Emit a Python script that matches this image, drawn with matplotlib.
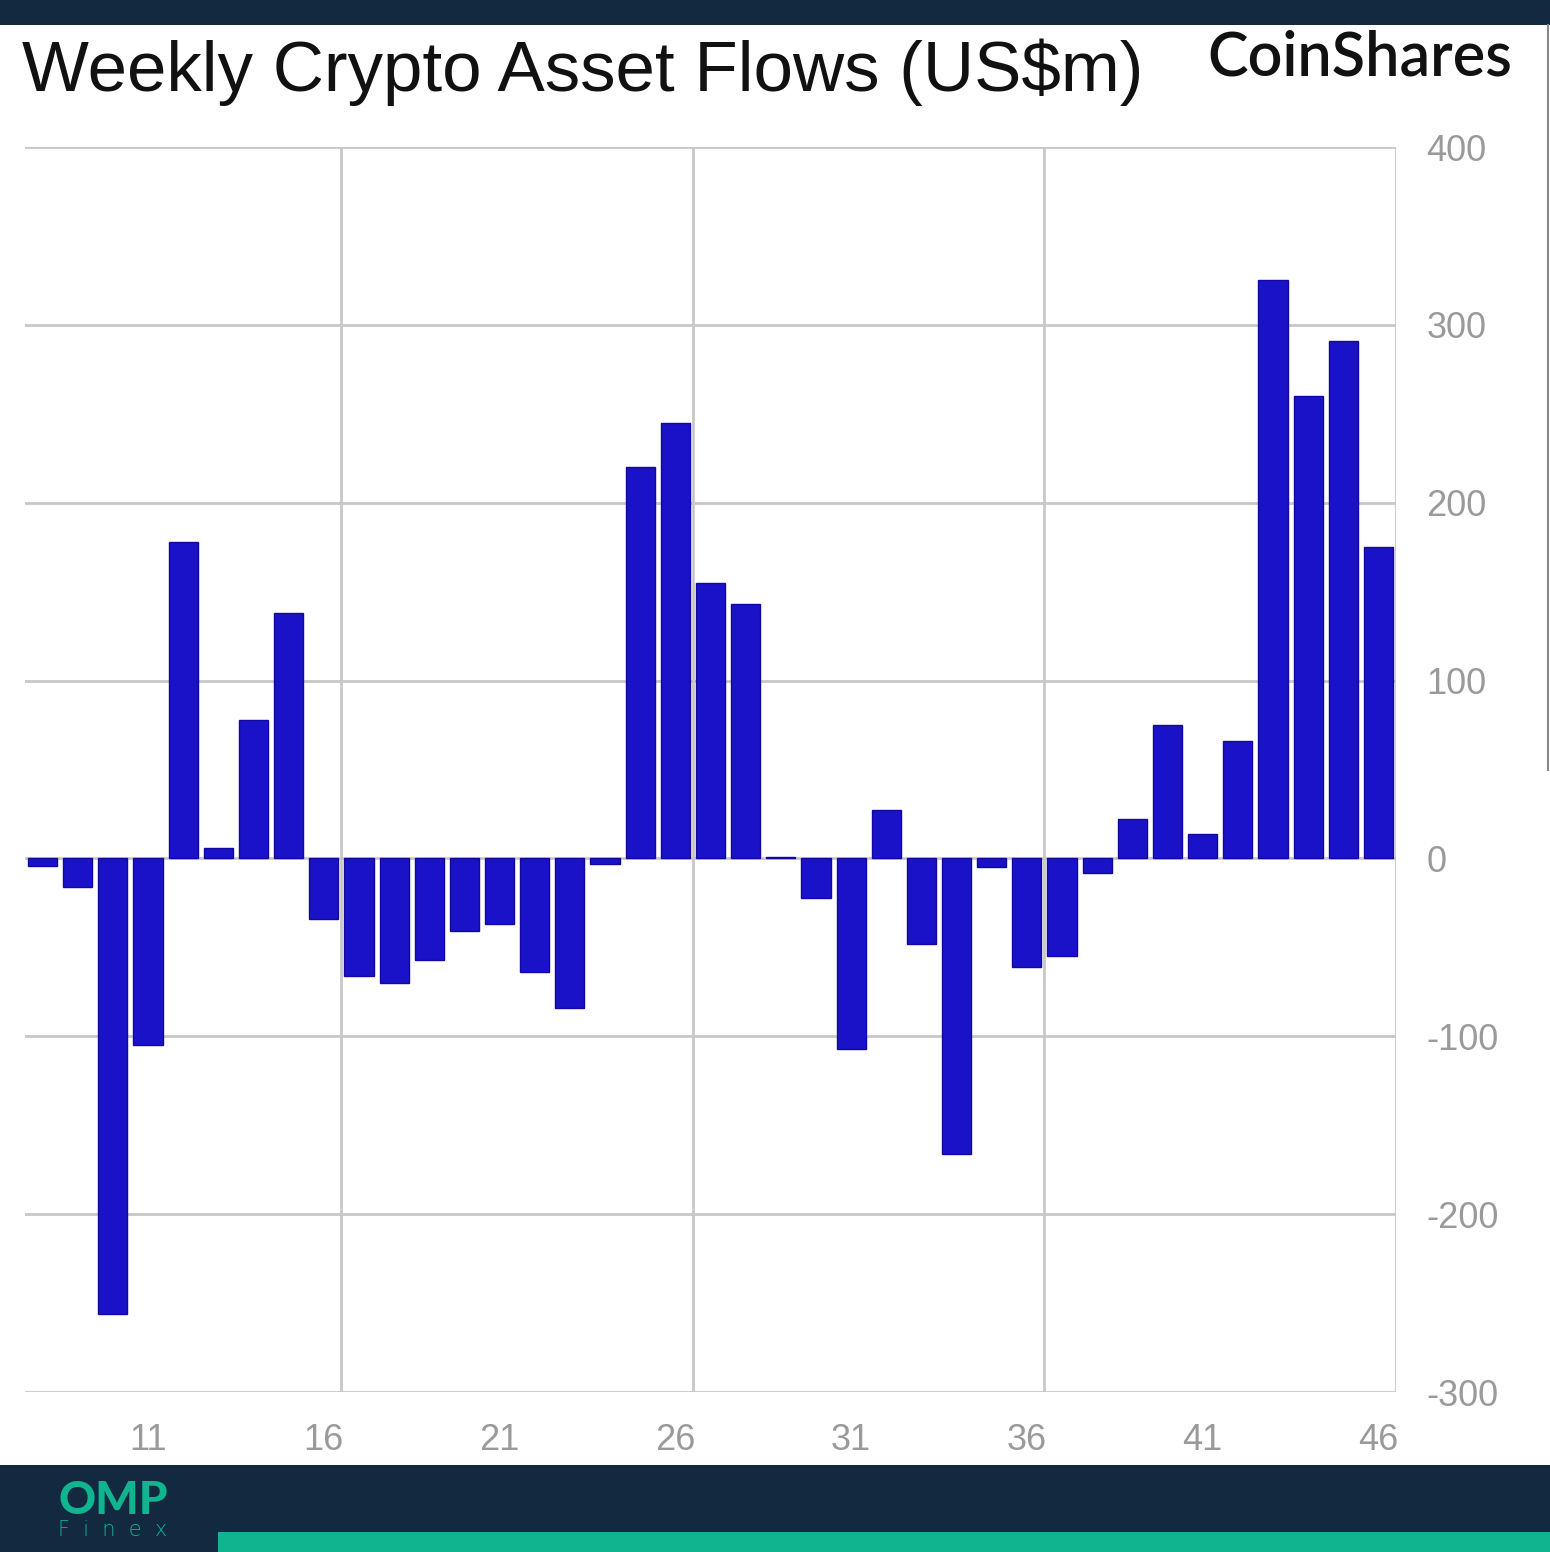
import matplotlib
matplotlib.use("Agg")
import matplotlib.pyplot as plt
from matplotlib.patches import Rectangle
from matplotlib.lines import Line2D

plt.rcParams['axes.unicode_minus'] = False

# weekly flows, week 8 .. 46
weeks = list(range(8, 47))
flows = [-4, -16, -256, -105, 178, 6, 78, 138, -34, -66,
         -70, -57, -41, -37, -64, -84, -3, 220, 245, 155,
         143, 1, -22, -107, 27, -48, -166, -5, -61, -55,
         -8, 22, 75, 14, 66, 325, 260, 291, 175]
x_ticks = [11, 16, 21, 26, 31, 36, 41, 46]
y_ticks = [-300, -200, -100, 0, 100, 200, 300, 400]
v_grid = [16.5, 26.5, 36.5, 46.5]

W, H = 1550, 1552
navy = "#12293f"
teal = "#10b48f"
bar_col = "#1a12c8"
grid_col = "#c8c8c8"
tick_col = "#9a9a9a"

fig = plt.figure(figsize=(W / 100, H / 100), dpi=100)
fig.patch.set_facecolor("white")

def fx(px):
    return px / W

def fy(py):
    return 1 - py / H

# chart area
ax = fig.add_axes([fx(25), fy(1392), fx(1396) - fx(25), fy(147) - fy(1392)])
ax.set_xlim(7.5, 46.5)
ax.set_ylim(-300, 400)
ax.bar(weeks, flows, width=0.83, color=bar_col, edgecolor="#1208a0", linewidth=1, zorder=3)

for v in y_ticks:
    ax.axhline(v, color=grid_col, linewidth=2, zorder=1)
for v in v_grid:
    ax.axvline(v, color=grid_col, linewidth=2, zorder=1)

for s in ax.spines.values():
    s.set_visible(False)
ax.set_facecolor("white")
ax.set_xticks(x_ticks)
ax.set_yticks(y_ticks)
ax.yaxis.tick_right()
ax.tick_params(axis="both", length=0, labelsize=26, labelcolor=tick_col)
ax.tick_params(axis="y", pad=22)
ax.tick_params(axis="x", pad=22)
for lab in ax.get_xticklabels() + ax.get_yticklabels():
    lab.set_fontfamily("Liberation Sans")

# title and brand
fig.text(fx(22), fy(72), "Weekly Crypto Asset Flows (US$m)", fontsize=51,
         family="Liberation Sans", color="#111111", va="center", ha="left")
fig.text(fx(1512), fy(58), "CoinShares", fontsize=44, family="Lato",
         weight="semibold", color="#111111", va="center", ha="right")

# top and bottom bands
fig.add_artist(Rectangle((0, fy(25)), 1, fy(0) - fy(25), transform=fig.transFigure,
                         facecolor=navy, edgecolor="none"))
fig.add_artist(Rectangle((0, 0), 1, fy(1465), transform=fig.transFigure,
                         facecolor=navy, edgecolor="none"))
fig.add_artist(Rectangle((fx(218), 0), 1 - fx(218), fy(1532), transform=fig.transFigure,
                         facecolor=teal, edgecolor="none"))
fig.add_artist(Line2D([fx(1548), fx(1548)], [fy(25), fy(770)], transform=fig.transFigure,
                      color="#8a8a8a", linewidth=1.5))

# OMP Finex logo
fig.text(fx(113), fy(1501), "OMP", fontsize=33, family="Lato", weight="black",
         color=teal, ha="center", va="center")
fig.text(fx(113), fy(1530), "F  i  n  e  x", fontsize=15, family="DejaVu Sans",
         weight="light", color=teal, ha="center", va="center")

fig.savefig("out.png", dpi=100, facecolor=fig.get_facecolor())
